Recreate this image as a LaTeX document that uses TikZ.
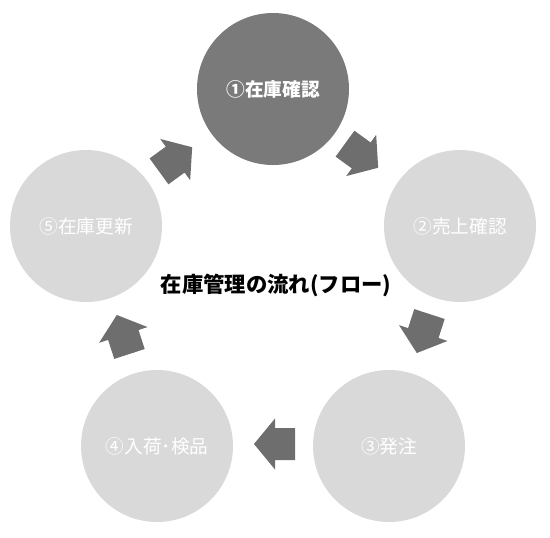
\documentclass[tikz,border=0pt]{standalone}
\usepackage{fontspec}
\newfontfamily\jp{Noto Sans CJK JP}
\definecolor{darkc}{HTML}{7A7A7A}
\definecolor{lightc}{HTML}{D9D9D9}
\definecolor{arrowc}{HTML}{6E6E6E}
\tikzset{
  stepcircle/.style={circle, minimum size=152*0.75pt, inner sep=0pt, font=\jp\fontsize{14}{16}\selectfont, text=white},
  darkstep/.style={stepcircle, fill=darkc, font=\jp\bfseries\fontsize{14}{16}\selectfont},
  lightstep/.style={stepcircle, fill=lightc},
  blockarrow/.style={fill=arrowc, draw=none}
}
\begin{document}
\begin{tikzpicture}[x=0.75pt,y=-0.75pt]
\useasboundingbox (0,0) rectangle (550,537);
\node[darkstep]  (c1) at (273,89)  {①在庫確認};
\node[lightstep] (c2) at (460,226) {②売上確認};
\node[lightstep] (c3) at (389,446) {③発注};
\node[lightstep] (c4) at (157,446) {④入荷･検品};
\node[lightstep] (c5) at (86,226)  {⑤在庫更新};
\node[font=\jp\bfseries\fontsize{16}{18}\selectfont] (title) at (276,285) {在庫管理の流れ(フロー)};
\foreach \cx/\cy/\ang in {362/156/-36, 423/334/-108, 274/444/180, 123/334/108, 176/159/36}{
  \begin{scope}[shift={(\cx,\cy)}, rotate=\ang]
    \fill[blockarrow] (-21,-16) -- (-1,-16) -- (-1,-25.5) -- (20,0) -- (-1,25.5) -- (-1,16) -- (-21,16) -- cycle;
  \end{scope}
}
\end{tikzpicture}
\end{document}
